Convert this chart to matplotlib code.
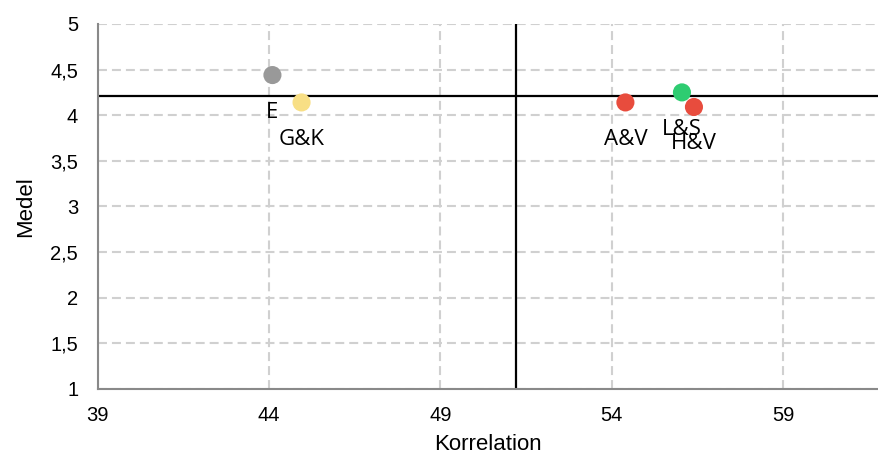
import matplotlib.pyplot as plt
import numpy as np

# Data
labels = ['E', 'G&K', 'A&V', 'L&S', 'H&V']
korrelation = [44.1, 44.95, 54.4, 56.05, 56.4]
medel = [4.44, 4.14, 4.14, 4.25, 4.09]
colors = ['#999999', '#F8DF85', '#E84C3D', '#2ECC71', '#E84C3D']

# reference lines
mean_korrelation = 51.2
mean_medel = 4.21

x_ticks = [39, 44, 49, 54, 59]
y_ticks = [1, 1.5, 2, 2.5, 3, 3.5, 4, 4.5, 5]
y_tick_labels = ['1', '1,5', '2', '2,5', '3', '3,5', '4', '4,5', '5']

fig = plt.figure(figsize=(8.79, 4.58), dpi=100)
ax = fig.add_axes([0.1111, 0.1507, 0.8889, 0.797])

# Grid
ax.grid(True, color='#D0D0D0', linestyle=(0, (4.3, 2.4)), linewidth=1.5)
ax.set_axisbelow(True)

# Quadrant lines
ax.axhline(mean_medel, color='black', linewidth=1.6, zorder=2)
ax.axvline(mean_korrelation, color='black', linewidth=1.6, zorder=2)

# Points
ax.scatter(korrelation, medel, s=170, c=colors, zorder=3, linewidths=0)

# Data labels
for lab, x, y in zip(labels, korrelation, medel):
    ax.annotate(lab, (x, y), xytext=(0, -26.6), textcoords='offset points',
                ha='center', va='center', fontsize=16, family='Open Sans', zorder=4)

ax.set_xlim(39, 61.8)
ax.set_ylim(1, 5)
ax.set_xticks(x_ticks)
ax.set_xticklabels([str(t) for t in x_ticks], fontsize=14.5, family='Liberation Sans')
ax.set_yticks(y_ticks)
ax.set_yticklabels(y_tick_labels, fontsize=14.5, family='Liberation Sans')
ax.tick_params(axis='x', length=0, pad=12)
ax.tick_params(axis='y', length=0, pad=14)

for side in ['top', 'right']:
    ax.spines[side].set_visible(False)
for side in ['left', 'bottom']:
    ax.spines[side].set_color('#898989')
    ax.spines[side].set_linewidth(1.5)

ax.set_xlabel('Korrelation', fontsize=16, family='Liberation Sans', labelpad=7)
ax.set_ylabel('Medel', fontsize=16, family='Liberation Sans', labelpad=10)

fig.savefig('out.png', dpi=100)
